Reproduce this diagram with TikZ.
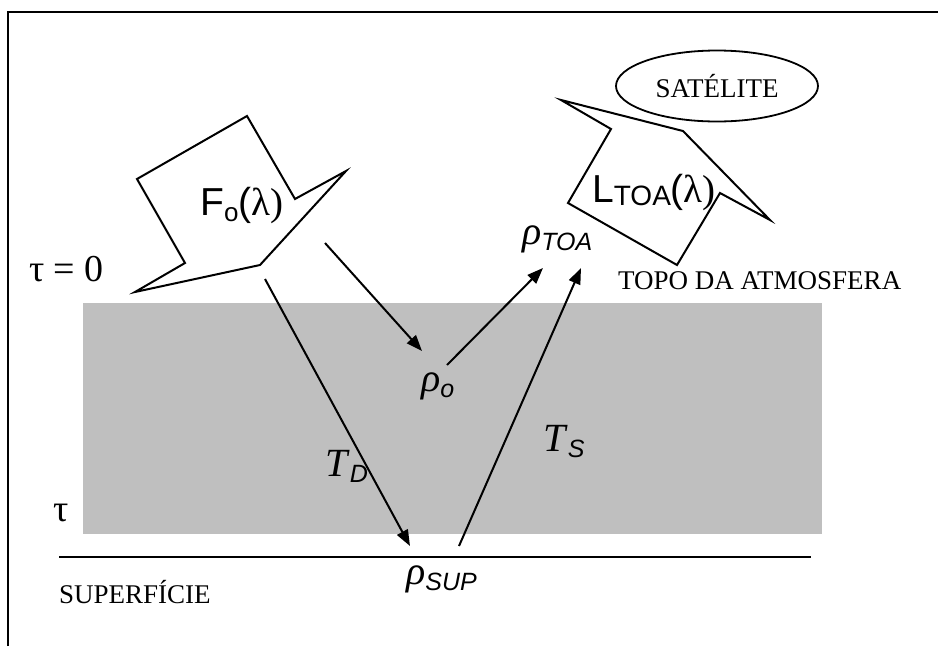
\documentclass[tikz,border=0pt]{standalone}
\usepackage{fontspec}
\setmainfont{Liberation Serif}
\newfontfamily\arial{Liberation Sans}
\usetikzlibrary{arrows.meta,shapes.geometric}
\newcommand{\sz}[1]{\fontsize{#1}{#1}\selectfont}
\newcommand{\rhosub}[1]{\textit{ρ}\raisebox{-6pt}{\arial\itshape\sz{25}#1}}
\newcommand{\tsub}[1]{\textit{T}\raisebox{-6pt}{\arial\itshape\sz{25}#1}}

\begin{document}
\begin{tikzpicture}[x=1pt,y=-1pt,line join=miter,
    every node/.style={inner sep=0pt},
    arr/.style={-{Triangle[length=16pt,width=12pt]},line width=2pt},
    blk/.style={draw,line width=2pt}]
  \useasboundingbox (0,0) rectangle (938,646);
  \draw [line width=2.6pt] (8,646) -- (8,12) -- (938,12);
  % atmosfera e superficie
  \fill [gray!50] (83,303) rectangle (822,534);
  \draw [line width=2pt] (59,557) -- (811,557);
  % setas largas
  \draw [blk] (247,116) -- (295,199) -- (346,171) -- (260,265) -- (135,292)
    -- (185,263) -- (137,179) -- cycle;
  \draw [blk] (561,100) -- (683,131) -- (770,220) -- (720,193) -- (677,265)
    -- (568,203) -- (611,129) -- cycle;
  \node (F) at (242,206) {\arial\sz{39}F\raisebox{-6pt}{\sz{26}o}(\rmfamily λ)};
  \node (L) at (654,193) {\arial\sz{39}L\raisebox{-3pt}{\sz{28}TOA}(\rmfamily λ)};
  \node (sat) [draw,ellipse,line width=1.8pt,minimum width=202pt,minimum height=71pt]
    at (717,86) {\sz{27}SATÉLITE};
  % textos
  \node (t0) [anchor=base west] at (29,281) {\sz{38}τ = 0};
  \node (t) [anchor=base west] at (53,521) {\sz{38}τ};
  \node (topo) [anchor=base west] at (618,289) {\sz{27}TOPO DA ATMOSFERA};
  \node (sup) [anchor=base west] at (59,603) {\sz{27}SUPERFÍCIE};
  \node (rtoa) [anchor=base west] at (522,244) {\sz{40}\rhosub{TOA}};
  \node (ro) [anchor=base west] at (421,391) {\sz{40}\rhosub{o}};
  \node (rsup) [anchor=base west] at (406,584) {\sz{40}\rhosub{SUP}};
  \node (TD) [anchor=base west] at (325,476) {\sz{40}\tsub{D}};
  \node (TS) [anchor=base west] at (543,451) {\sz{40}\tsub{S}};
  % raios
  \coordinate (a1) at (265,279);
  \coordinate (b1) at (410,546);
  \coordinate (a2) at (325,243);
  \coordinate (b2) at (422,351);
  \coordinate (a3) at (447,365);
  \coordinate (b3) at (543,268);
  \coordinate (a4) at (459,546);
  \coordinate (b4) at (581,268);
  \draw [arr] (a1) -- (b1);
  \draw [arr] (a2) -- (b2);
  \draw [arr] (a3) -- (b3);
  \draw [arr] (a4) -- (b4);
\end{tikzpicture}
\end{document}
